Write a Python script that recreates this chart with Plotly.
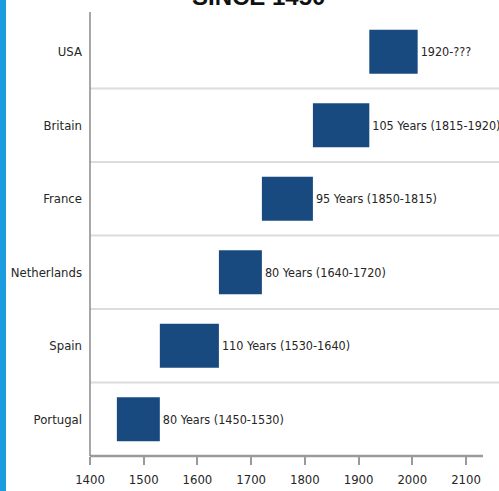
import plotly.graph_objects as go

countries = ["Portugal", "Spain", "Netherlands", "France", "Britain", "USA"]
start_years = [1450, 1530, 1640, 1720, 1815, 1920]
durations = [80, 110, 80, 95, 105, 90]
bar_labels = ["80 Years (1450-1530)", "110 Years (1530-1640)", "80 Years (1640-1720)",
              "95 Years (1850-1815)", "105 Years (1815-1920)", "1920-???"]
x_ticks = [1400, 1500, 1600, 1700, 1800, 1900, 2000, 2100]
title_text = "SINCE 1450"

FONT = "DejaVu Sans Condensed, Liberation Sans Narrow, Arial Narrow, sans-serif"
BAR = "#184a80"
TXT = "#262626"

W, H = 499, 491
ML, MR, MT, MB = 90, 0, 15, 35
PW, PH = W - ML - MR, H - MT - MB
px_per_year = 376 / 700.0
x0 = 1400
x1 = x0 + PW / px_per_year

fig = go.Figure()
fig.add_trace(go.Bar(
    y=countries, x=durations, base=start_years, orientation="h",
    marker=dict(color=BAR, line=dict(width=0)), width=0.6,
    text=bar_labels, textposition="outside", constraintext="none",
    textfont=dict(family=FONT, size=12.5, color=TXT),
    cliponaxis=False, hoverinfo="skip",
))

shapes = []
for i in range(len(countries) - 1):
    shapes.append(dict(type="line", xref="paper", yref="y", x0=0, x1=1,
                       y0=i + 0.5, y1=i + 0.5, line=dict(color="#dcdcdc", width=2),
                       layer="below"))
shapes.append(dict(type="line", xref="x", yref="paper", x0=x0, x1=x0 + 393 / px_per_year,
                   y0=0, y1=0, line=dict(color="#9a9a9a", width=2.5)))
shapes.append(dict(type="line", xref="paper", yref="paper", x0=0, x1=0,
                   y0=0, y1=1 + 3 / PH, line=dict(color="#8a8a8a", width=1.5)))
shapes.append(dict(type="rect", xref="paper", yref="paper",
                   x0=-ML / PW, x1=(-ML + 6) / PW, y0=-MB / PH, y1=1 + MT / PH,
                   line=dict(width=0), fillcolor="#1d9ce0"))

fig.update_layout(
    width=W, height=H,
    margin=dict(l=ML, r=MR, t=MT, b=MB, pad=0, autoexpand=False),
    plot_bgcolor="white", paper_bgcolor="white",
    showlegend=False,
    shapes=shapes,
    xaxis=dict(range=[x0, x1], tickvals=x_ticks, ticktext=[str(v) for v in x_ticks],
               showgrid=False, zeroline=False, showline=False, automargin=False,
               ticks="outside", ticklen=8, tickwidth=1.5, tickcolor="#9a9a9a",
               ticklabelstandoff=3,
               tickfont=dict(family=FONT, size=13, color=TXT)),
    yaxis=dict(categoryorder="array", categoryarray=countries, range=[-0.5, 5.5],
               showgrid=False, zeroline=False, showline=False, ticks="", automargin=False,
               ticklabelstandoff=7,
               tickfont=dict(family=FONT, size=13, color=TXT)),
    annotations=[dict(text="<b>" + title_text + "</b>", xref="paper", yref="paper",
                      x=(258 - ML) / PW, y=1 + (MT + 3) / PH, xanchor="center", yanchor="middle",
                      showarrow=False,
                      font=dict(family="Liberation Sans, Arial, sans-serif", size=24, color="#111111"))],
)

fig.write_html("out.html")
